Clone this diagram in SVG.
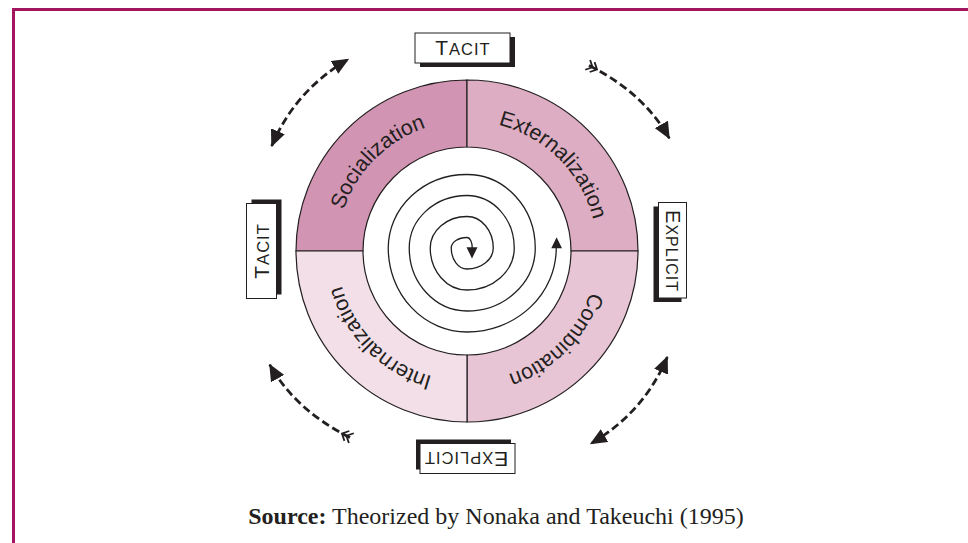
<svg xmlns="http://www.w3.org/2000/svg" width="968" height="543" viewBox="0 0 968 543">
<style>
.q{stroke:#231F20;stroke-width:1.2}
.qt{font-family:"Liberation Sans",Arial,sans-serif;font-size:21.5px;fill:#231F20}
.box{fill:#fff;stroke:#231F20;stroke-width:1}
.shadow{fill:#231F20}
.lbl{font-family:"Liberation Sans",Arial,sans-serif;fill:#231F20;letter-spacing:1px}
.dash{fill:none;stroke:#231F20;stroke-width:2.8;stroke-dasharray:8 4}
.spiral{fill:none;stroke:#231F20;stroke-width:1.3}
</style>
<defs>
<marker id="tri" markerUnits="userSpaceOnUse" viewBox="0 0 17 15" refX="16" refY="7.5" markerWidth="17" markerHeight="15" orient="auto-start-reverse"><path d="M0,0 L17,7.5 L0,15 Z" fill="#231F20"/></marker>
<marker id="fletch" markerUnits="userSpaceOnUse" viewBox="-3 -7 16 14" refX="0" refY="0" markerWidth="16" markerHeight="14" orient="auto"><path d="M-1.5,-5.5 L4,0 L-1.5,5.5 M3.5,-5.5 L9,0 L3.5,5.5" fill="none" stroke="#231F20" stroke-width="1.8"/></marker>
<path id="arcSoc" d="M337 251 A130 130 0 0 1 467 121"/>
<path id="arcExt" d="M467 121 A130 130 0 0 1 597 251"/>
<path id="arcCom" d="M597 251 A130 130 0 0 1 467 381"/>
<path id="arcInt" d="M467 381 A130 130 0 0 1 337 251"/>
</defs>
<path id="frame" d="M13.5 543 V9.5 H968" fill="none" stroke="#A3165F" stroke-width="3"/>
<g id="socialization">
<path class="q" fill="#D294B3" d="M296 251 A171 171 0 0 1 467 80 L467 147 A104 104 0 0 0 363 251 Z"/>
<text class="qt"><textPath href="#arcSoc" startOffset="50%" text-anchor="middle">Socialization</textPath></text>
</g>
<g id="externalization">
<path class="q" fill="#DDADC3" d="M467 80 A171 171 0 0 1 638 251 L571 251 A104 104 0 0 0 467 147 Z"/>
<text class="qt"><textPath href="#arcExt" startOffset="50%" text-anchor="middle">Externalization</textPath></text>
</g>
<g id="combination">
<path class="q" fill="#E7C5D5" d="M638 251 A171 171 0 0 1 467 422 L467 355 A104 104 0 0 0 571 251 Z"/>
<text class="qt"><textPath href="#arcCom" startOffset="50%" text-anchor="middle">Combination</textPath></text>
</g>
<g id="internalization">
<path class="q" fill="#F3DFE8" d="M467 422 A171 171 0 0 1 296 251 L363 251 A104 104 0 0 0 467 355 Z"/>
<text class="qt"><textPath href="#arcInt" startOffset="50%" text-anchor="middle">Internalization</textPath></text>
</g>
<g id="spiral">
<path class="spiral" d="M472.25 248 A5.25 10.5 0 0 0 467 237.5 A15.75 10.5 0 0 0 451.25 248 A15.75 21 0 0 0 467 269 A26.25 21 0 0 0 493.25 248 A26.25 31.5 0 0 0 467 216.5 A36.75 31.5 0 0 0 430.25 248 A36.75 42 0 0 0 467 290 A47.25 42 0 0 0 514.25 248 A47.25 52.5 0 0 0 467 195.5 A57.75 52.5 0 0 0 409.25 248 A57.75 63 0 0 0 467 311 A68.25 63 0 0 0 535.25 248 A68.25 73.5 0 0 0 467 174.5 A78.75 73.5 0 0 0 388.25 248 A78.75 84 0 0 0 467 332 A89.25 84 0 0 0 556.25 248"/>
<path d="M466.5 247.3 L477.5 247.3 L472 258.5 Z" fill="#231F20"/>
<path d="M551.3 248.3 L562 248.3 L556.6 237.2 Z" fill="#231F20"/>
</g>
<g id="tacit-top">
<rect class="shadow" x="420" y="37" width="95" height="30"/>
<rect class="box" x="415" y="33" width="95" height="30"/>
<text class="lbl" x="463" y="54.5" text-anchor="middle"><tspan font-size="21">T</tspan><tspan font-size="16.5">ACIT</tspan></text>
</g>
<g id="tacit-left">
<rect class="shadow" x="251.5" y="199.5" width="30" height="95"/>
<rect class="box" x="246.5" y="203.5" width="30" height="95"/>
<text class="lbl" transform="translate(262,251) rotate(-90)" x="0" y="6.5" text-anchor="middle"><tspan font-size="21">T</tspan><tspan font-size="16.5">ACIT</tspan></text>
</g>
<g id="explicit-right">
<rect class="shadow" x="653.5" y="206.5" width="28" height="95.5"/>
<rect class="box" x="658.5" y="202.5" width="28" height="95.5"/>
<text class="lbl" transform="translate(672.5,251) rotate(90)" x="0" y="6.5" text-anchor="middle"><tspan font-size="20">E</tspan><tspan font-size="16">XPLICIT</tspan></text>
</g>
<g id="explicit-bottom">
<rect class="shadow" x="416" y="439.5" width="95" height="30"/>
<rect class="box" x="420" y="443.5" width="95" height="30"/>
<text class="lbl" transform="translate(466,458.5) rotate(180)" x="0" y="6.5" text-anchor="middle"><tspan font-size="21">E</tspan><tspan font-size="16.5">XPLICIT</tspan></text>
</g>
<g id="connectors">
<path class="dash" d="M271.7 146 Q295 90.5 348.3 59.3" marker-start="url(#tri)" marker-end="url(#tri)"/>
<path class="dash" d="M589 65.5 Q643.5 92.75 669.3 138.3" marker-start="url(#fletch)" marker-end="url(#tri)"/>
<path class="dash" d="M350 437.5 Q295.5 410.25 269.7 364.7" marker-start="url(#fletch)" marker-end="url(#tri)"/>
<path class="dash" d="M667.3 357 Q644 412.5 590.7 443.7" marker-start="url(#tri)" marker-end="url(#tri)"/>
</g>
<text id="source" x="496" y="524" text-anchor="middle" font-family="Liberation Serif,Times New Roman,serif" font-size="24" fill="#231F20"><tspan font-weight="bold">Source:</tspan> Theorized by Nonaka and Takeuchi (1995)</text>
</svg>
